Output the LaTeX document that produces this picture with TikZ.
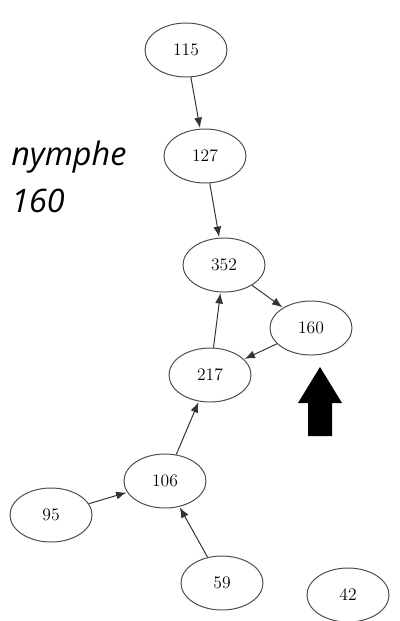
\documentclass[tikz,border=0pt]{standalone}
\usepackage{fontspec}
\newfontfamily\notefont{Open Sans}
\usetikzlibrary{shapes.geometric, arrows.meta, positioning}

\begin{document}
\begin{tikzpicture}[x=0.025cm, y=-0.025cm,
    vertex/.style={draw=black!70, ellipse, line width=0.7pt, minimum width=2.05cm, minimum height=1.35cm, inner sep=0pt, font=\fontsize{12.5}{14}\selectfont},
    link/.style={-{Latex[length=2.6mm, width=2mm]}, line width=0.7pt, black!80, shorten >=0.5pt}]
    \useasboundingbox (0,0) rectangle (400,621);

    % Vertices
    \node[vertex] (v115) at (186,50) {115};
    \node[vertex] (v127) at (205,156) {127};
    \node[vertex] (v352) at (224,265) {352};
    \node[vertex] (v160) at (311,328) {160};
    \node[vertex] (v217) at (210,375) {217};
    \node[vertex] (v106) at (165,481) {106};
    \node[vertex] (v95) at (51,515) {95};
    \node[vertex] (v59) at (222,583) {59};
    \node[vertex] (v42) at (348,595) {42};

    % Edges
    \draw[link] (v115) -- (v127);
    \draw[link] (v127) -- (v352);
    \draw[link] (v352) -- (v160);
    \draw[link] (v160) -- (v217);
    \draw[link] (v217) -- (v352);
    \draw[link] (v106) -- (v217);
    \draw[link] (v95) -- (v106);
    \draw[link] (v59) -- (v106);

    % Marker
    \fill (308,436) -- (308,403) -- (298,403) -- (320,367) -- (342,403) -- (332,403) -- (332,436) -- cycle;

    % Note
    \node[anchor=north west, align=left, inner sep=0pt, font=\notefont\itshape\fontsize{23}{33}\selectfont] (note) at (11,141) {nymphe\\160};
\end{tikzpicture}
\end{document}
